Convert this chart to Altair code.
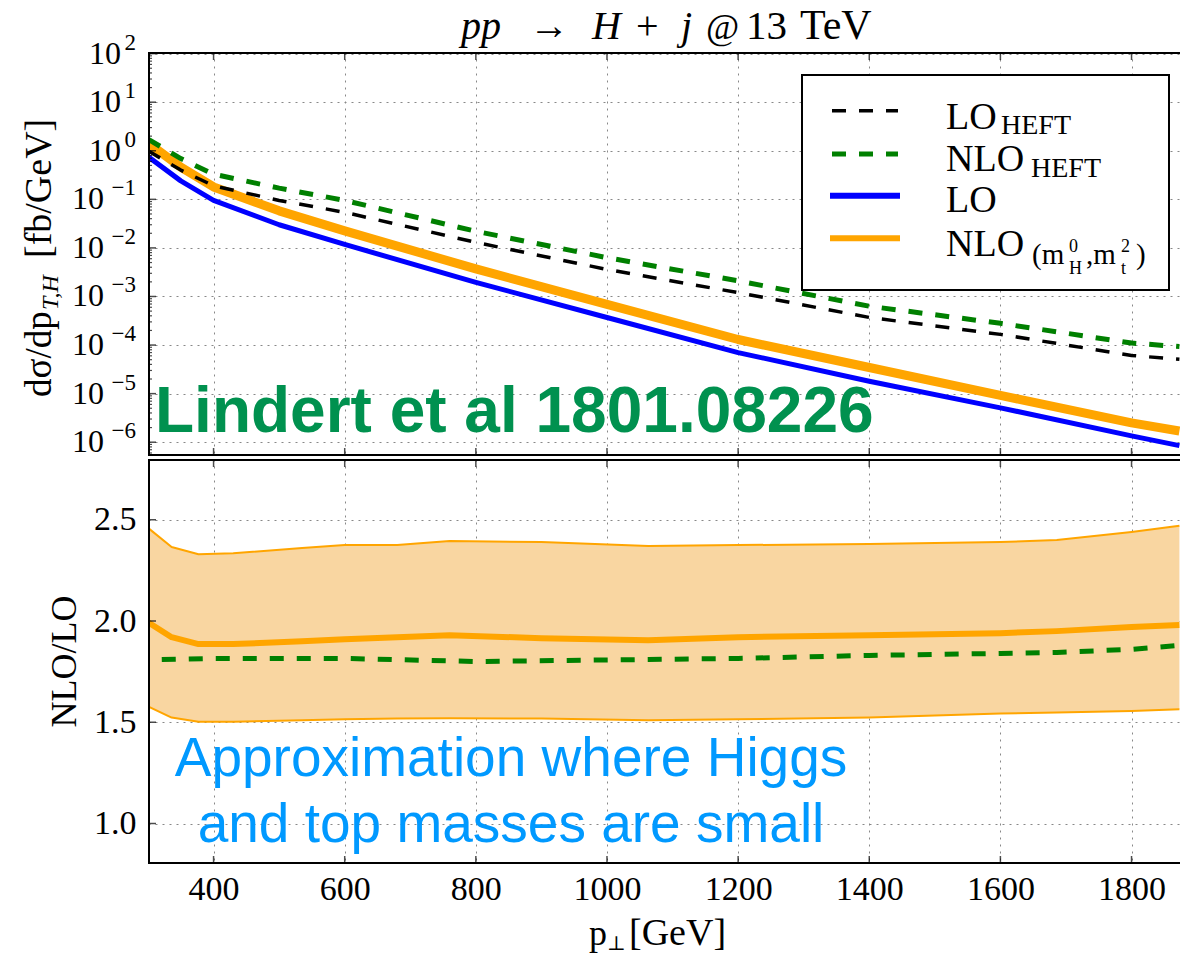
import altair as alt
import pandas as pd

# ---------------- data ----------------
pt = [300, 350, 400, 500, 600, 800, 1000, 1200, 1400, 1600, 1800, 1873]
lo_heft = [1.0, 0.40, 0.19, 0.095, 0.054, 0.013, 3.6e-3, 1.2e-3, 3.7e-4, 1.66e-4, 6.1e-5, 5.1e-5]
nlo_heft = [1.74, 0.69, 0.33, 0.17, 0.095, 0.022, 6.3e-3, 2.1e-3, 6.3e-4, 2.8e-4, 1.1e-4, 9.3e-5]
lo = [0.76, 0.24, 0.095, 0.030, 0.0118, 1.95e-3, 3.7e-4, 7.0e-5, 1.8e-5, 5.1e-6, 1.35e-6, 8.5e-7]
nlo = [1.45, 0.46, 0.18, 0.058, 0.0224, 3.7e-3, 6.9e-4, 1.3e-4, 3.45e-5, 9.2e-6, 2.5e-6, 1.7e-6]

ratio_pt = [300, 336, 377, 430, 535, 600, 680, 760, 900, 1063, 1200, 1400, 1600, 1686, 1800, 1873]
ratio_nlo = [1.994, 1.92, 1.886, 1.886, 1.90, 1.91, 1.92, 1.93, 1.915, 1.905, 1.92, 1.93, 1.94, 1.95, 1.97, 1.98]
ratio_hi = [2.46, 2.365, 2.33, 2.335, 2.36, 2.375, 2.375, 2.395, 2.39, 2.37, 2.375, 2.38, 2.39, 2.40, 2.44, 2.47]
ratio_lo = [1.578, 1.523, 1.502, 1.503, 1.51, 1.515, 1.518, 1.52, 1.518, 1.51, 1.515, 1.523, 1.543, 1.548, 1.556, 1.564]
heft_pt = [321, 400, 600, 800, 1063, 1200, 1400, 1600, 1686, 1800, 1873]
ratio_heft = [1.81, 1.815, 1.815, 1.80, 1.81, 1.815, 1.83, 1.84, 1.845, 1.86, 1.88]

x_ticks = [400, 600, 800, 1000, 1200, 1400, 1600, 1800]
y1_ticks = [1e-6, 1e-5, 1e-4, 1e-3, 1e-2, 1e-1, 1e0, 1e1, 1e2]
y1_exps = [-6, -5, -4, -3, -2, -1, 0, 1, 2]
y2_ticks = [1.0, 1.5, 2.0, 2.5]

# ---------------- layout / style ----------------
W, H1, H2 = 1032, 404, 405
SERIF = "Liberation Serif, DejaVu Serif, serif"
SANS = "Liberation Sans, Arial, sans-serif"
Y1_DOM = [5.2e-7, 108]
XS = alt.Scale(domain=[300, 1873.9], nice=False, zero=False)
YS1 = alt.Scale(type="log", domain=Y1_DOM, nice=False)
YS2 = alt.Scale(domain=[0.8, 2.8], nice=False, zero=False)

one = pd.DataFrame({"k": [0]})

AX1 = alt.Axis(values=x_ticks, labels=False, title=None, grid=True)
AY1 = alt.Axis(values=y1_ticks, labels=False, title=None, grid=True)
AX2 = alt.Axis(values=x_ticks, format="d", labelPadding=8, title=None, grid=True)
AY2 = alt.Axis(values=y2_ticks, format=".1f", labelPadding=12, grid=True,
               title="NLO/LO", titleFont=SERIF, titleFontSize=36, titleFontWeight="normal",
               titleX=-84, titleY=202, titleBaseline="middle", titleColor="black")


def X1(f="pt"):
    return alt.X(f"{f}:Q", scale=XS, axis=AX1)


def Y1(f="v"):
    return alt.Y(f"{f}:Q", scale=YS1, axis=AY1)


def X2(f="pt"):
    return alt.X(f"{f}:Q", scale=XS, axis=AX2)


def Y2(f="r"):
    return alt.Y(f"{f}:Q", scale=YS2, axis=AY2)


def txt(s, x, y, size, font=SERIF, style="normal", weight="normal", color="black",
        align="left", baseline="alphabetic", angle=0):
    return alt.Chart(one).mark_text(
        text=s, font=font, fontSize=size, fontStyle=style, fontWeight=weight,
        color=color, align=align, baseline=baseline, angle=angle
    ).encode(x=alt.value(x), y=alt.value(y))


def seg(x1, x2, y, color, width, dash=None, clip=False):
    kw = dict(color=color, strokeWidth=width, clip=clip)
    if dash:
        kw["strokeDash"] = dash
    return alt.Chart(one).mark_rule(**kw).encode(x=alt.value(x1), x2=alt.value(x2), y=alt.value(y))


def vseg(x, y1, y2, color, width, clip=False):
    return alt.Chart(one).mark_rule(color=color, strokeWidth=width, clip=clip).encode(
        x=alt.value(x), y=alt.value(y1), y2=alt.value(y2))


def curve(xs, ys, color, width, dash=None):
    kw = dict(color=color, strokeWidth=width, clip=True, strokeJoin="round")
    if dash:
        kw["strokeDash"] = dash
    return alt.Chart(pd.DataFrame({"pt": xs, "v": ys})).mark_line(**kw).encode(x=X1(), y=Y1())


DASH = [14, 13]

# ---------------- top panel ----------------
c_nlo = curve(pt, nlo, "#ffa500", 9)
c_lo = curve(pt, lo, "#0000ff", 5)
c_lohe = curve(pt, lo_heft, "black", 3.5, DASH)
c_nlohe = curve(pt, nlo_heft, "#008000", 5, DASH)

xt = pd.DataFrame({"pt": x_ticks})
TK = dict(thickness=1.5, color="black")
t1_top = alt.Chart(xt).mark_tick(orient="vertical", size=8, **TK).encode(x=X1(), y=alt.value(4))
t1_bot = alt.Chart(xt).mark_tick(orient="vertical", size=8, **TK).encode(x=X1(), y=alt.value(H1 - 4))
y1_minor = [m * 10.0 ** e for e in range(-7, 2) for m in range(2, 10)
            if Y1_DOM[0] < m * 10.0 ** e < Y1_DOM[1]]
t1_left = alt.Chart(pd.DataFrame({"v": y1_ticks})).mark_tick(
    orient="horizontal", size=8, **TK).encode(y=Y1(), x=alt.value(4))
t1_minor = alt.Chart(pd.DataFrame({"v": y1_minor})).mark_tick(
    orient="horizontal", size=4, thickness=1.2, color="black").encode(y=Y1(), x=alt.value(2))

lab = pd.DataFrame({
    "v": y1_ticks,
    "base": ["10"] * len(y1_ticks),
    "exp": [str(e).replace("-", "\u2212") for e in y1_exps],
    "neg": [e < 0 for e in y1_exps],
})
lab_base_neg = alt.Chart(lab).transform_filter("datum.neg").mark_text(
    align="right", baseline="middle", font=SERIF, fontSize=32, color="black").encode(
    y=Y1(), x=alt.value(-44), text="base:N")
lab_base_pos = alt.Chart(lab).transform_filter("!datum.neg").mark_text(
    align="right", baseline="middle", font=SERIF, fontSize=32, color="black").encode(
    y=Y1(), x=alt.value(-27), text="base:N")
lab_exp = alt.Chart(lab).mark_text(
    align="right", baseline="middle", font=SERIF, fontSize=23, dy=-11, color="black").encode(
    y=Y1(), x=alt.value(-12), text="exp:N")

ytitle = [
    txt("d\u03c3/dp", -97, 345, 37, angle=270),
    txt("T,H", -90, 258, 24, style="italic", angle=270),
    txt("[fb/GeV]", -97, 206, 38, angle=270),
]

title = [
    txt("pp", 313, -13, 40, style="italic"),
    txt("\u2192", 381, -13, 40),
    txt("H", 444, -13, 40, style="italic"),
    txt("+", 488, -13, 40),
    txt("j", 533, -13, 40, style="italic"),
    txt("@", 558, -13, 36),
    txt("13", 598, -13, 41),
    txt("TeV", 652, -13, 42),
]

legend = [
    alt.Chart(one).mark_rect(fill="white", stroke="black", strokeWidth=2).encode(
        x=alt.value(654), x2=alt.value(1021), y=alt.value(23), y2=alt.value(238)),
    seg(684, 750, 58.7, "black", 3.5, DASH),
    seg(684, 750, 102, "#008000", 5, DASH),
    seg(682, 752, 143.7, "#0000ff", 6),
    seg(682, 752, 186.3, "#ffa500", 6),
    txt("LO", 798, 77, 38),
    txt("HEFT", 853, 82, 28),
    txt("NLO", 798, 118.7, 38),
    txt("HEFT", 883, 125, 28),
    txt("LO", 798, 160, 38),
    txt("NLO", 798, 203.7, 38),
    txt("(m", 884, 212, 29),
    txt("0", 921, 200, 18),
    txt("H", 921, 222, 18),
    txt(",m", 938, 212, 29),
    txt("2", 973, 200, 18),
    txt("t", 973, 222, 18),
    txt(")", 988, 212, 29),
]

frame1 = [seg(0, W, 1, "black", 2, clip=True), seg(0, W, H1 - 1, "black", 2, clip=True),
          vseg(1, 0, H1, "black", 2, clip=True)]

lindert = txt("Lindert et al 1801.08226", 7, 380, 64, font=SANS, weight="bold", color="#00914f")

top = alt.layer(
    c_nlo, c_lo, c_lohe, c_nlohe,
    t1_top, t1_bot, t1_left, t1_minor,
    lab_base_neg, lab_base_pos, lab_exp,
    *ytitle, *title, *legend, *frame1, lindert
).properties(width=W, height=H1)

# ---------------- bottom panel ----------------
band_df = pd.DataFrame({"pt": ratio_pt, "r": ratio_lo, "hi": ratio_hi})
band = alt.Chart(band_df).mark_area(color="#f9d6a1", opacity=1, clip=True).encode(
    x=X2(), y=Y2("r"), y2="hi:Q")


def rline(xs, ys, color, width, dash=None):
    kw = dict(color=color, strokeWidth=width, clip=True, strokeJoin="round")
    if dash:
        kw["strokeDash"] = dash
    return alt.Chart(pd.DataFrame({"pt": xs, "r": ys})).mark_line(**kw).encode(x=X2(), y=Y2())


band_hi = rline(ratio_pt, ratio_hi, "#ffa500", 2)
band_lo = rline(ratio_pt, ratio_lo, "#ffa500", 2)
central = rline(ratio_pt, ratio_nlo, "#ffa500", 6)
heft = rline(heft_pt, ratio_heft, "#008000", 5, DASH)

t2_top = alt.Chart(xt).mark_tick(orient="vertical", size=8, **TK).encode(x=X2(), y=alt.value(4))
t2_bot = alt.Chart(xt).mark_tick(orient="vertical", size=8, **TK).encode(x=X2(), y=alt.value(H2 - 4))
t2_left = alt.Chart(pd.DataFrame({"r": y2_ticks})).mark_tick(
    orient="horizontal", size=8, **TK).encode(y=Y2(), x=alt.value(4))

frame2 = [seg(0, W, 1, "black", 2, clip=True), seg(0, W, H2 - 1, "black", 2, clip=True),
          vseg(1, 0, H2, "black", 2, clip=True)]

approx = [
    txt("Approximation where Higgs", 363, 317, 55, font=SANS, color="#0099ff", align="center"),
    txt("and top masses are small", 363, 383, 55, font=SANS, color="#0099ff", align="center"),
]
xtitle = [
    txt("p", 441, 486, 36),
    txt("\u22a5", 459, 491, 20),
    txt("[GeV]", 481, 486, 38),
]

bottom = alt.layer(
    band, band_hi, band_lo, central, heft,
    t2_top, t2_bot, t2_left, *frame2,
    *approx, *xtitle
).properties(width=W, height=H2)

chart = alt.vconcat(top, bottom, spacing=0).properties(
    padding={"left": 21, "top": 5, "right": 0, "bottom": 0},
).configure_view(
    strokeWidth=0
).configure_axis(
    domain=False, ticks=False, gridDash=[2, 5], gridColor="#888888", gridWidth=1,
    gridOpacity=1, labelFont=SERIF, labelFontSize=34, labelColor="black",
)

chart.save("out.html", embed_options={"renderer": "svg", "actions": False})
